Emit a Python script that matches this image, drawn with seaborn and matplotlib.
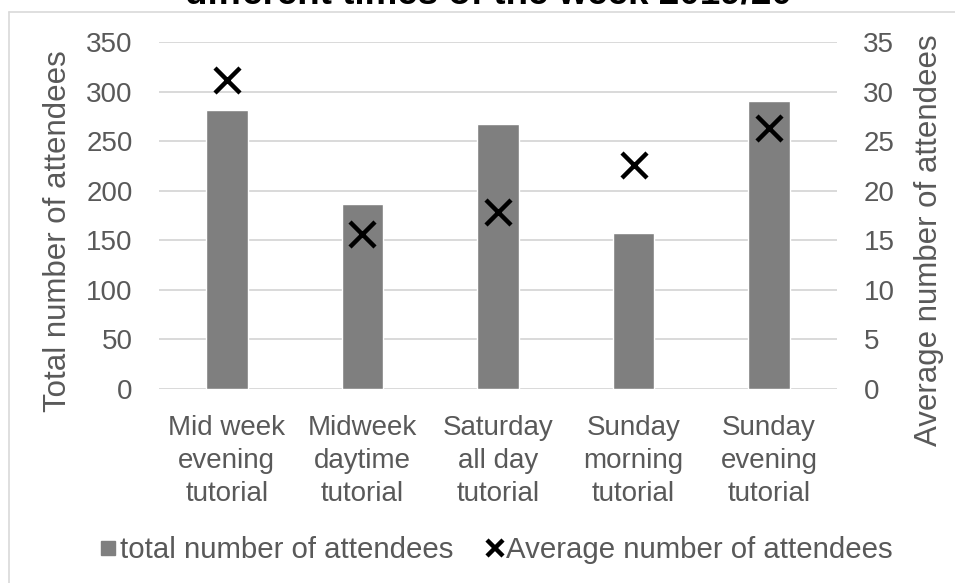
import matplotlib
matplotlib.use("Agg")
import matplotlib.pyplot as plt
from matplotlib.lines import Line2D
import seaborn as sns
import pandas as pd

# Tutorial sessions and attendance figures
categories = [
    "Mid week\nevening\ntutorial",
    "Midweek\ndaytime\ntutorial",
    "Saturday\nall day\ntutorial",
    "Sunday\nmorning\ntutorial",
    "Sunday\nevening\ntutorial",
]
total_attendees = [281, 187, 267, 157, 290]
average_attendees = [31.2, 15.6, 17.9, 22.6, 26.3]

left_ticks = [0, 50, 100, 150, 200, 250, 300, 350]
right_ticks = [0, 5, 10, 15, 20, 25, 30, 35]

title_text = "different times of the week 2019/20"
left_label = "Total number of attendees"
right_label = "Average number of attendees"
bar_legend = "total number of attendees"
avg_legend = "Average number of attendees"

TEXT = "#595959"
GRID = "#d9d9d9"
BAR = "#7f7f7f"

sns.set_theme(style="white")
plt.rcParams["font.family"] = ["Liberation Sans", "DejaVu Sans"]

df = pd.DataFrame({"session": categories,
                   "total": total_attendees,
                   "average": average_attendees})

W, H = 955, 583
fig = plt.figure(figsize=(W / 100, H / 100), dpi=100)
ax = fig.add_axes([159 / W, 1 - 389 / H, (837 - 159) / W, (389 - 42) / H])

sns.barplot(data=df, x="session", y="total", color=BAR, width=0.307,
            saturation=1, ax=ax, zorder=2)
ax.set_ylim(0, 350)
ax.set_yticks(left_ticks)
ax.yaxis.grid(True, color=GRID, linewidth=1.4, zorder=0)
ax.set_axisbelow(True)
for s in ax.spines.values():
    s.set_visible(False)
ax.tick_params(axis="y", length=0, pad=19, labelsize=20, labelcolor=TEXT)
ax.tick_params(axis="x", length=0, pad=19, labelsize=20, labelcolor=TEXT)
ax.set_xlabel("")
ax.set_ylabel(left_label, fontsize=22.5, color=TEXT)
ax.yaxis.set_label_coords(-0.127, 0.455)

ax2 = ax.twinx()
sns.pointplot(data=df, x="session", y="average", color="black",
              marker="x", linestyle="none", markersize=18,
              markeredgewidth=3.2, errorbar=None, ax=ax2)
ax2.set_ylim(0, 35)
ax2.set_yticks(right_ticks)
for s in ax2.spines.values():
    s.set_visible(False)
ax2.tick_params(axis="y", length=0, pad=19, labelsize=20, labelcolor=TEXT)
ax2.set_ylabel(right_label, fontsize=22.5, color=TEXT, rotation=90)
ax2.yaxis.set_label_coords(1.113, 0.43)
ax2.set_xlabel("")
ax.set_xlim(-0.5, len(categories) - 0.5)
for lbl in ax.get_xticklabels():
    lbl.set_linespacing(1.33)

# Chart frame edges
fig.add_artist(Line2D([9 / W, 9 / W], [0, 1 - 12 / H], color=GRID,
                      linewidth=1.2, transform=fig.transFigure))
fig.add_artist(Line2D([9 / W, 1], [1 - 12 / H, 1 - 12 / H], color=GRID,
                      linewidth=1.2, transform=fig.transFigure))

# Title (second line of a two-line heading, running off the top)
fig.text(488 / W, 1 - 3.5 / H, title_text, ha="center", va="baseline",
         fontsize=26.5, fontweight="bold", color="black")

handles = [
    Line2D([], [], marker="s", linestyle="none", color=BAR, markersize=10),
    Line2D([], [], marker="x", linestyle="none", color="black",
           markersize=11, markeredgewidth=3.2),
]
fig.legend(handles, [bar_legend, avg_legend], loc="center",
           bbox_to_anchor=(497 / W, 1 - 550 / H), ncol=2, frameon=False,
           fontsize=21.2, labelcolor=TEXT, handlelength=0.5,
           handletextpad=0.15, columnspacing=1.15)

fig.savefig("out.png", dpi=100)
